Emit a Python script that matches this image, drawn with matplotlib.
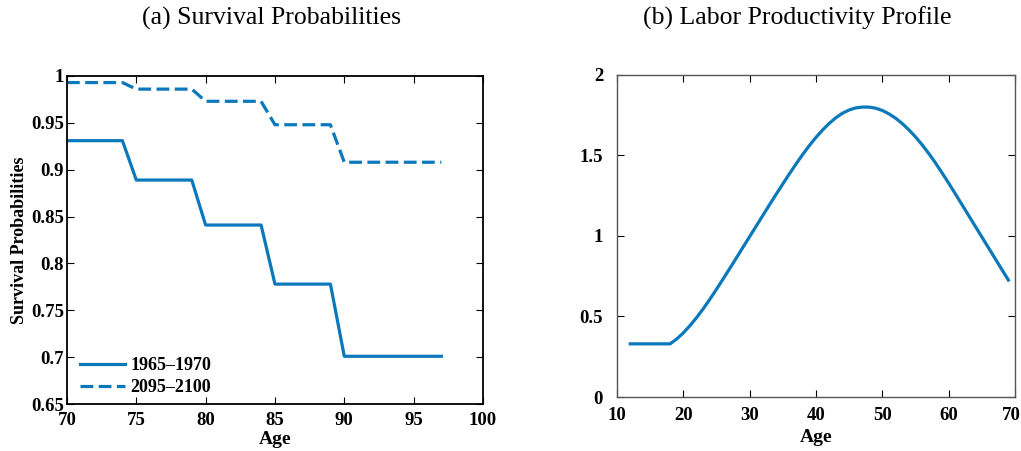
import numpy as np
from matplotlib import pyplot as plt
from matplotlib.ticker import FormatStrFormatter
from matplotlib.transforms import ScaledTranslation

plt.rcParams['font.family'] = ['Liberation Serif', 'DejaVu Serif']

# survival probabilities by age
ages_surv = list(range(70, 98))
surv_1965 = [0.931] * 5 + [0.889] * 5 + [0.841] * 5 + [0.778] * 5 + [0.701] * 8
surv_2095 = [0.993] * 5 + [0.986] * 5 + [0.973] * 5 + [0.948] * 5 + [0.908] * 8
labels = ['1965\u20131970', '2095\u20132100']

# labor productivity profile
ages_prod = list(range(12, 70))
prod = [0.330, 0.330, 0.330, 0.330, 0.330, 0.330, 0.330,
        0.360, 0.398, 0.443, 0.493, 0.548, 0.607, 0.669, 0.733, 0.798,
        0.864, 0.930, 0.996, 1.062, 1.128, 1.194, 1.259, 1.323, 1.386,
        1.447, 1.506, 1.561, 1.612, 1.658, 1.699, 1.734, 1.762, 1.782,
        1.795, 1.800, 1.800, 1.793, 1.779, 1.758, 1.731, 1.698, 1.659,
        1.615, 1.566, 1.512, 1.454, 1.392, 1.328, 1.262, 1.195, 1.128,
        1.061, 0.994, 0.927, 0.860, 0.793, 0.726]

col = '#0a78bb'

fig = plt.figure(figsize=(10.21, 4.51), dpi=100)
ax1 = fig.add_axes([0.0656, 0.104, 0.4074, 0.7275])
ax2 = fig.add_axes([0.6043, 0.1197, 0.3898, 0.7143])

fig.text(271 / 1021, 1 - 18 / 451, '(a) Survival Probabilities', fontsize=18.5,
         ha='center', va='center')
fig.text(797 / 1021, 1 - 18 / 451, '(b) Labor Productivity Profile', fontsize=18.5,
         ha='center', va='center')

ax1.plot(ages_surv, surv_1965, color=col, lw=2.3, label=labels[0])
ax1.plot(ages_surv, surv_2095, color=col, lw=2.3, ls=(0, (4, 1.7)), label=labels[1])
ax1.set_xlim(70, 100)
ax1.set_ylim(0.65, 1.0)
ax1.set_xticks(np.arange(70, 101, 5))
ax1.set_yticks(np.arange(0.65, 1.001, 0.05))
ax1.yaxis.set_major_formatter(FormatStrFormatter('%g'))
ax1.set_xlabel('Age', fontsize=14, fontweight='bold', labelpad=1)
ax1.set_ylabel('Survival Probabilities', fontsize=13, fontweight='bold', labelpad=2)
ax1.legend(loc='lower left', frameon=False, handlelength=2.5,
           prop={'weight': 'bold', 'size': 13}, borderaxespad=0.05,
           borderpad=0.4, labelspacing=0.25, handletextpad=0.3,
           bbox_to_anchor=(0.012, 0.0))
for s in ax1.spines.values():
    s.set_linewidth(1.3)
ax1.tick_params(axis='x', pad=6)
ax1.tick_params(axis='y', pad=2)

ax2.plot(ages_prod, prod, color=col, lw=2.3)
ax2.set_xlim(10, 70)
ax2.set_ylim(0, 2)
ax2.set_xticks(np.arange(10, 71, 10))
ax2.set_yticks(np.arange(0, 2.01, 0.5))
ax2.yaxis.set_major_formatter(FormatStrFormatter('%g'))
ax2.set_xlabel('Age', fontsize=14, fontweight='bold', labelpad=4)
for s in ax2.spines.values():
    s.set_linewidth(1.0)
    s.set_color('#555555')
ax2.tick_params(axis='x', pad=7)
ax2.tick_params(axis='y', pad=10)

for ax in (ax1, ax2):
    ax.tick_params(direction='in', top=True, right=True, length=5, width=0.8,
                   labelsize=13.5)
    for t in ax.get_xticklabels() + ax.get_yticklabels():
        t.set_fontweight('bold')

# last label of the right panel sits flush with the figure edge
last = ax2.get_xticklabels()[-1]
last.set_transform(last.get_transform() + ScaledTranslation(-4 / 100, 0, fig.dpi_scale_trans))

fig.savefig('out.png', dpi=100)
